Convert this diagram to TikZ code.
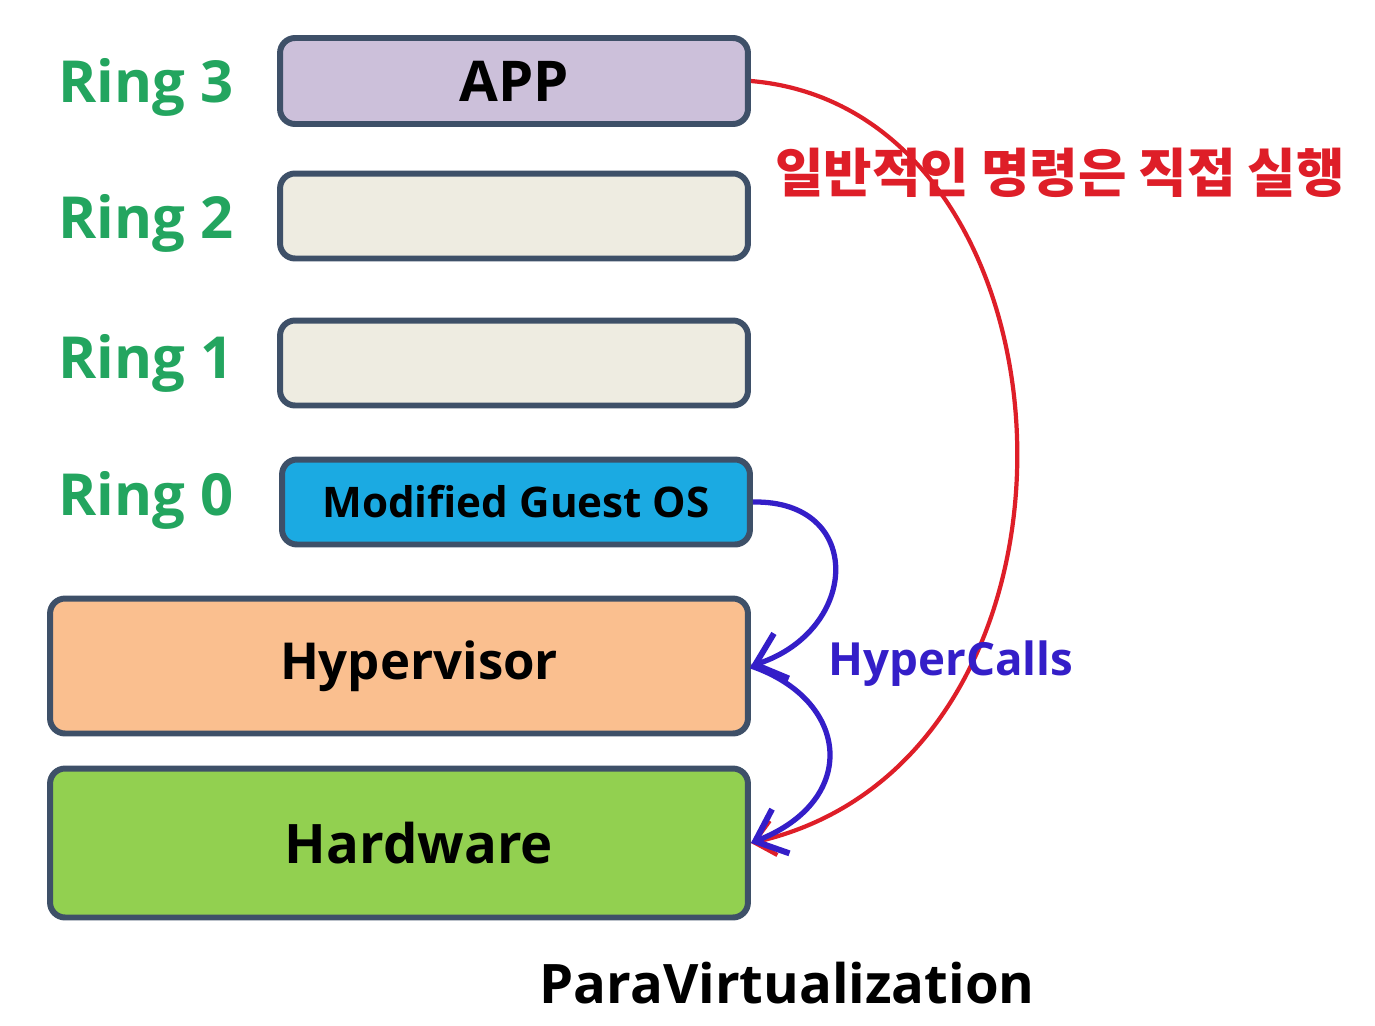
\documentclass[tikz,border=0pt]{standalone}
\usepackage{fontspec}
\setmainfont{Open Sans}
\newfontfamily\krfont{Noto Sans CJK KR}
\usetikzlibrary{arrows.meta}
\definecolor{ringgreen}{RGB}{35,165,95}
\definecolor{edgegray}{RGB}{62,80,104}
\definecolor{appfill}{RGB}{204,192,218}
\definecolor{ringfill}{RGB}{238,236,225}
\definecolor{osfill}{RGB}{27,170,226}
\definecolor{hvfill}{RGB}{250,191,143}
\definecolor{hwfill}{RGB}{146,208,80}
\definecolor{callred}{RGB}{222,30,40}
\definecolor{callblue}{RGB}{52,30,200}
\tikzset{
  layer/.style={draw=edgegray, line width=3.4pt, rounded corners=0.3cm, inner sep=0pt, font=\bfseries},
  ringlabel/.style={text=ringgreen, font=\fontsize{33}{36}\selectfont\bfseries},
  callarrow/.style={line width=3pt, -{Straight Barb[length=0.55cm, width=0.95cm, line width=3.4pt]}}
}
\begin{document}
\begin{tikzpicture}[x=0.02cm, y=-0.02cm]
\useasboundingbox (0,0) rectangle (1375,1025);
% ring levels
\node[ringlabel] (r3) at (146,87) {Ring 3};
\node[ringlabel] (r2) at (146,223) {Ring 2};
\node[ringlabel] (r1) at (146,363) {Ring 1};
\node[ringlabel] (r0) at (146,500) {Ring 0};
% layers
\node[layer, fill=appfill, minimum width=9.36cm, minimum height=1.72cm, font=\fontsize{32}{34}\selectfont\bfseries] (app) at (514,81) {APP};
\node[layer, fill=ringfill, minimum width=9.36cm, minimum height=1.7cm] (ring2) at (514,216) {};
\node[layer, fill=ringfill, minimum width=9.36cm, minimum height=1.7cm] (ring1) at (514,363) {};
\node[layer, fill=osfill, minimum width=9.36cm, minimum height=1.7cm, font=\fontsize{24}{26}\selectfont\bfseries] (os) at (516,502) {Modified Guest OS};
\node[layer, fill=hvfill, minimum width=13.96cm, minimum height=2.7cm, font=\fontsize{29}{31}\selectfont\bfseries] (hv) at (399,666) {\hspace*{0.8cm}Hypervisor};
\node[layer, fill=hwfill, minimum width=13.96cm, minimum height=2.98cm, font=\fontsize{31}{33}\selectfont\bfseries] (hw) at (399,843) {\hspace*{0.8cm}Hardware};
% calls
\draw[callred, line width=2.4pt, -{Straight Barb[length=0.4cm, width=0.7cm, line width=2.4pt]}] (app.east) .. controls (1090,110) and (1120,760) .. (hw.east);
\draw[callarrow, callblue] (os.east) .. controls (865,500) and (860,630) .. (hv.east);
\draw[callarrow, callblue] (hv.east) .. controls (850,700) and (860,800) .. (hw.east);
% labels
\node[text=callred, font=\krfont\fontsize{30}{32}\selectfont\bfseries] (direct) at (1060,173) {일반적인 명령은 직접 실행};
\node[text=callblue, font=\fontsize{26}{28}\selectfont\bfseries] (hcalls) at (951,664) {HyperCalls};
\node[font=\fontsize{31}{33}\selectfont\bfseries] (title) at (787,983) {ParaVirtualization};
\end{tikzpicture}
\end{document}
